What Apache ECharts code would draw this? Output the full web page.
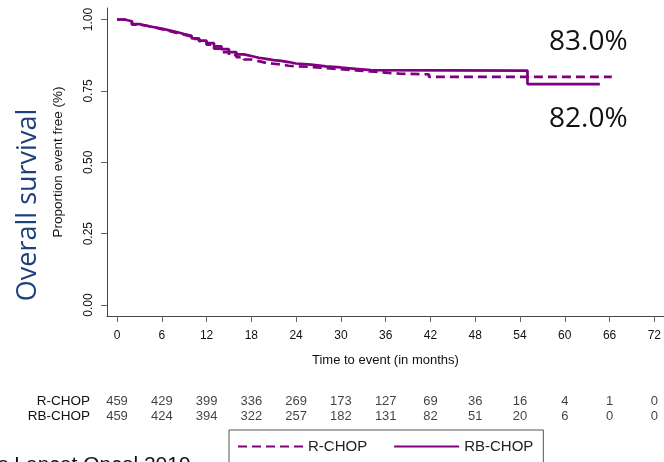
<!DOCTYPE html>
<html>
<head>
<meta charset="utf-8">
<script src="https://cdn.jsdelivr.net/npm/echarts@6/dist/echarts.min.js"></script>
<style>
  html, body { margin: 0; padding: 0; background: #fff; }
  #chart { width: 664px; height: 462px; }
</style>
</head>
<body>
<div id="chart"></div>
<script>
// Kaplan-Meier steps (months, proportion)
const rchopTime = [0, 1, 2, 3, 4, 5, 6, 7, 8, 9, 10, 11, 12, 13, 14, 15, 16, 17, 18, 19, 20, 21, 22, 23, 24, 26, 28, 30, 32, 34, 36, 38, 41.8, 66.3]
const rchopSurv = [1, 0.993, 0.982, 0.978, 0.973, 0.966, 0.96, 0.953, 0.947, 0.94, 0.932, 0.924, 0.912, 0.898, 0.886, 0.876, 0.868, 0.86, 0.854, 0.848, 0.845, 0.842, 0.838, 0.836, 0.834, 0.83, 0.826, 0.822, 0.818, 0.814, 0.81, 0.808, 0.799, 0.799]
const rbchopTime = [0, 1, 2, 3, 4, 5, 6, 7, 8, 9, 10, 11, 12, 13, 14, 15, 16, 17, 18, 19, 20, 21, 22, 23, 24, 26, 28, 30, 32, 34, 55, 64.7]
const rbchopSurv = [1, 0.994, 0.984, 0.978, 0.973, 0.968, 0.962, 0.956, 0.949, 0.943, 0.934, 0.926, 0.917, 0.906, 0.896, 0.886, 0.878, 0.872, 0.866, 0.862, 0.858, 0.855, 0.851, 0.846, 0.842, 0.836, 0.832, 0.827, 0.823, 0.821, 0.774, 0.774]

// ticks and number at risk
const xTicks = [0, 6, 12, 18, 24, 30, 36, 42, 48, 54, 60, 66, 72]
const yTicks = [0, 0.25, 0.5, 0.75, 1]
const groups = ['R-CHOP', 'RB-CHOP']
const rchopRisk = [459, 429, 399, 336, 269, 173, 127, 69, 36, 16, 4, 1, 0]
const rbchopRisk = [459, 424, 394, 322, 257, 182, 131, 82, 51, 20, 6, 0, 0]

const purple = '#800080'
const axisColor = '#444'
const font = 'Liberation Sans, Arial, sans-serif'

const riskData = []
xTicks.forEach((t, i) => {
  riskData.push([t, groups[0], rchopRisk[i]])
  riskData.push([t, groups[1], rbchopRisk[i]])
})

const option = {
  animation: false,
  textStyle: { fontFamily: font },
  grid: [
    { left: 107, right: 0, top: 8, bottom: 146 },
    { left: 107, right: 0, top: 393.5, height: 31 },
  ],
  legend: {
    data: groups,
    left: 229,
    top: 430,
    orient: 'horizontal',
    itemWidth: 65,
    itemHeight: 14,
    itemGap: 26,
    padding: [9, 10, 30, 8],
    borderColor: '#555',
    borderWidth: 1,
    itemStyle: { opacity: 0 },
    textStyle: { fontSize: 15, color: '#222', fontFamily: font },
  },
  xAxis: [
    {
      type: 'value',
      gridIndex: 0,
      min: -1.34,
      max: 73.28,
      name: 'Time to event (in months)',
      nameLocation: 'middle',
      nameGap: 38,
      nameTextStyle: { fontSize: 13, color: '#111' },
      splitLine: { show: false },
      axisLine: { onZero: false, lineStyle: { color: axisColor, width: 1 } },
      axisTick: { customValues: xTicks, length: 6, lineStyle: { color: '#666' } },
      axisLabel: { customValues: xTicks, fontSize: 12, color: '#111', margin: 14 },
    },
    {
      type: 'value',
      gridIndex: 1,
      min: -1.34,
      max: 73.28,
      show: false,
    },
  ],
  yAxis: [
    {
      type: 'value',
      gridIndex: 0,
      min: -0.0385,
      max: 1.0403,
      name: 'Proportion event free (%)',
      nameLocation: 'middle',
      nameGap: 42,
      nameTextStyle: { fontSize: 13.5, color: '#111' },
      splitLine: { show: false },
      axisLine: { show: true, onZero: false, lineStyle: { color: axisColor, width: 1 } },
      axisTick: { show: true, customValues: yTicks, length: 6, lineStyle: { color: '#666' } },
      axisLabel: {
        customValues: yTicks,
        rotate: 90,
        fontSize: 12,
        color: '#111',
        margin: 12,
        formatter: v => v.toFixed(2),
      },
    },
    {
      type: 'category',
      gridIndex: 1,
      data: groups,
      inverse: true,
      axisLine: { show: false },
      axisTick: { show: false },
      axisLabel: { interval: 0, fontSize: 13.5, color: '#111', margin: 17 },
    },
  ],
  series: [
    {
      name: 'R-CHOP',
      type: 'line',
      step: 'end',
      symbol: 'none',
      color: purple,
      lineStyle: { width: 2.7, type: [9, 5], color: purple },
      data: rchopTime.map((t, i) => [t, rchopSurv[i]]),
    },
    {
      name: 'RB-CHOP',
      type: 'line',
      step: 'end',
      symbol: 'none',
      color: purple,
      lineStyle: { width: 2.7, color: purple },
      data: rbchopTime.map((t, i) => [t, rbchopSurv[i]]),
    },
    {
      type: 'scatter',
      xAxisIndex: 1,
      yAxisIndex: 1,
      symbolSize: 1,
      silent: true,
      itemStyle: { color: 'rgba(0,0,0,0)' },
      label: {
        show: true,
        position: 'inside',
        fontSize: 13,
        color: '#111',
        formatter: p => p.value[2],
      },
      data: riskData,
    },
  ],
  graphic: [
    {
      type: 'text',
      x: 549,
      y: 42.5,
      style: { text: '83.0%', font: '28px "Open Sans", sans-serif', fill: '#111', verticalAlign: 'middle' },
    },
    {
      type: 'text',
      x: 549,
      y: 119,
      style: { text: '82.0%', font: '28px "Open Sans", sans-serif', fill: '#111', verticalAlign: 'middle' },
    },
    {
      type: 'text',
      x: 28,
      y: 205,
      rotation: Math.PI / 2,
      style: { text: 'Overall survival', font: '27px "Open Sans", sans-serif', fill: '#1c3f7e', align: 'center', verticalAlign: 'middle' },
    },
    {
      type: 'text',
      x: -2,
      y: 455,
      style: { text: 's Lancet Oncol 2019', font: '21px "Liberation Sans", Arial, sans-serif', fill: '#111', verticalAlign: 'top' },
    },
  ],
}

const chart = echarts.init(document.getElementById('chart'))
chart.setOption(option)
</script>
</body>
</html>
